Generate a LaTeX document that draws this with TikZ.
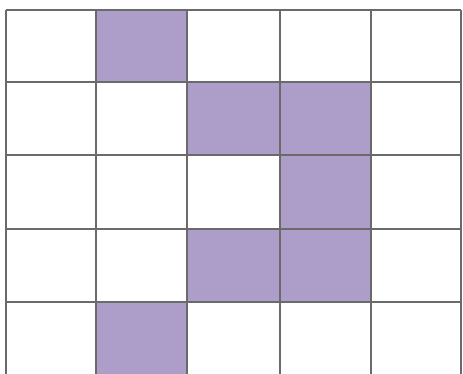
\documentclass[tikz,border=0pt]{standalone}
\definecolor{cellfill}{HTML}{AD9DC9}
\definecolor{gridline}{HTML}{6A6A6A}
\tikzset{
  filled/.style={fill=cellfill},
  gridstroke/.style={draw=gridline, line width=1.6pt},
}
\begin{document}
\begin{tikzpicture}[x=1pt,y=-1pt]
\useasboundingbox (0,0) rectangle (463,373);
\fill[white] (0,0) rectangle (463,373);
\begin{scope}
\clip (0,0) rectangle (463,373);
% filled cells
\fill[filled] (96,10) rectangle (187,82);
\fill[filled] (187,82) rectangle (371,155);
\fill[filled] (280,155) rectangle (371,229);
\fill[filled] (187,229) rectangle (371,302);
\fill[filled] (96,302) rectangle (187,376);
% grid lines
\foreach \x in {6,96,187,280,371,461} \draw[gridstroke] (\x,10) -- (\x,380);
\foreach \y in {10,82,155,229,302} \draw[gridstroke] (6,\y) -- (461,\y);
\end{scope}
\end{tikzpicture}
\end{document}
